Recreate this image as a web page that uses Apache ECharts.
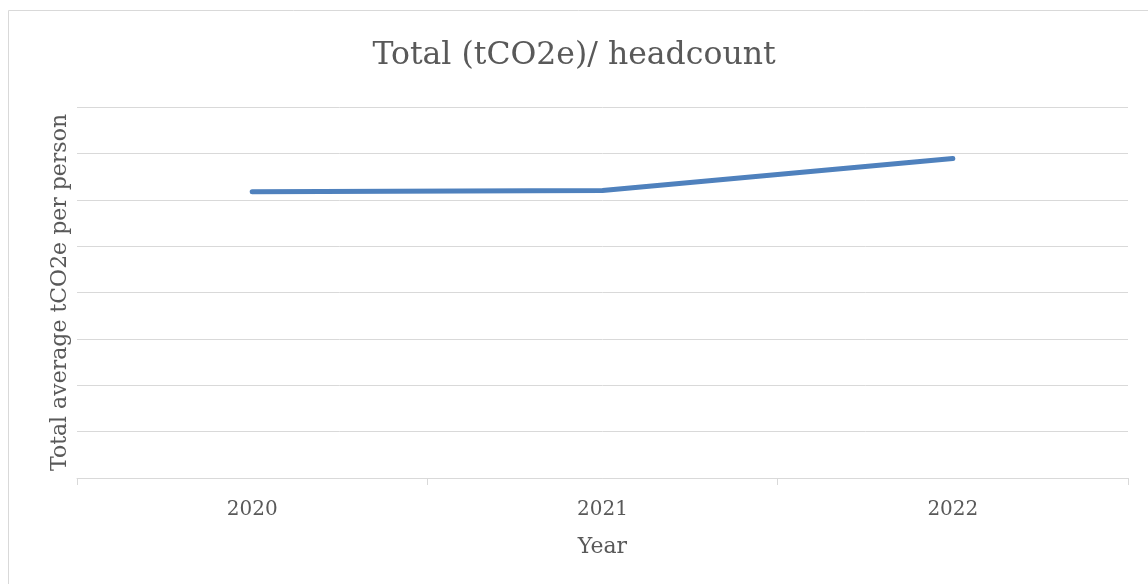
<!DOCTYPE html>
<html>
<head>
<meta charset="utf-8">
<script src="https://cdn.jsdelivr.net/npm/echarts@6/dist/echarts.min.js"></script>
<style>
  html, body { margin: 0; padding: 0; background: #fff; }
  #main { width: 1148px; height: 584px; }
</style>
</head>
<body>
<div id="main"></div>
<script>
// chart data
const years = ['2020', '2021', '2022'];
const perPerson = [6.17, 6.20, 6.89];
const yTicks = { min: 0, max: 8, interval: 1 };

const chart = echarts.init(document.getElementById('main'));
const txt = '#595959';
const font = '"DejaVu Serif", "Liberation Serif", serif';

chart.setOption({
	animation: false,
	graphic: [{
		type: 'rect',
		shape: { x: 8.5, y: 10.5, width: 1200, height: 700 },
		style: { fill: 'none', stroke: '#d9d9d9', lineWidth: 1 },
		silent: true
	}],
	title: {
		text: 'Total (tCO2e)/ headcount',
		left: 'center',
		top: 35,
		textStyle: { fontFamily: font, fontSize: 31.5, fontWeight: 'normal', color: txt }
	},
	grid: { left: 77, right: 20, top: 107, bottom: 106 },
	xAxis: {
		type: 'category',
		data: years,
		boundaryGap: true,
		name: 'Year',
		nameLocation: 'middle',
		nameGap: 58,
		nameTextStyle: { fontFamily: font, fontSize: 22, color: txt },
		axisLine: { lineStyle: { color: '#d9d9d9', width: 1 } },
		axisTick: { show: true, length: 7, lineStyle: { color: '#d9d9d9' } },
		axisLabel: { fontFamily: font, fontSize: 20, color: txt, margin: 22 }
	},
	yAxis: {
		type: 'value',
		min: yTicks.min,
		max: yTicks.max,
		interval: yTicks.interval,
		name: 'Total average tCO2e per person',
		nameLocation: 'middle',
		nameGap: 6,
		nameTextStyle: { fontFamily: font, fontSize: 22, color: txt },
		axisLine: { show: false },
		axisTick: { show: false },
		axisLabel: { show: false },
		splitLine: { lineStyle: { color: '#d9d9d9', width: 1 } }
	},
	series: [{
		type: 'line',
		data: perPerson,
		symbol: 'none',
		lineStyle: { color: '#4f81bd', width: 5, cap: 'round', join: 'round' }
	}]
});
</script>
</body>
</html>
